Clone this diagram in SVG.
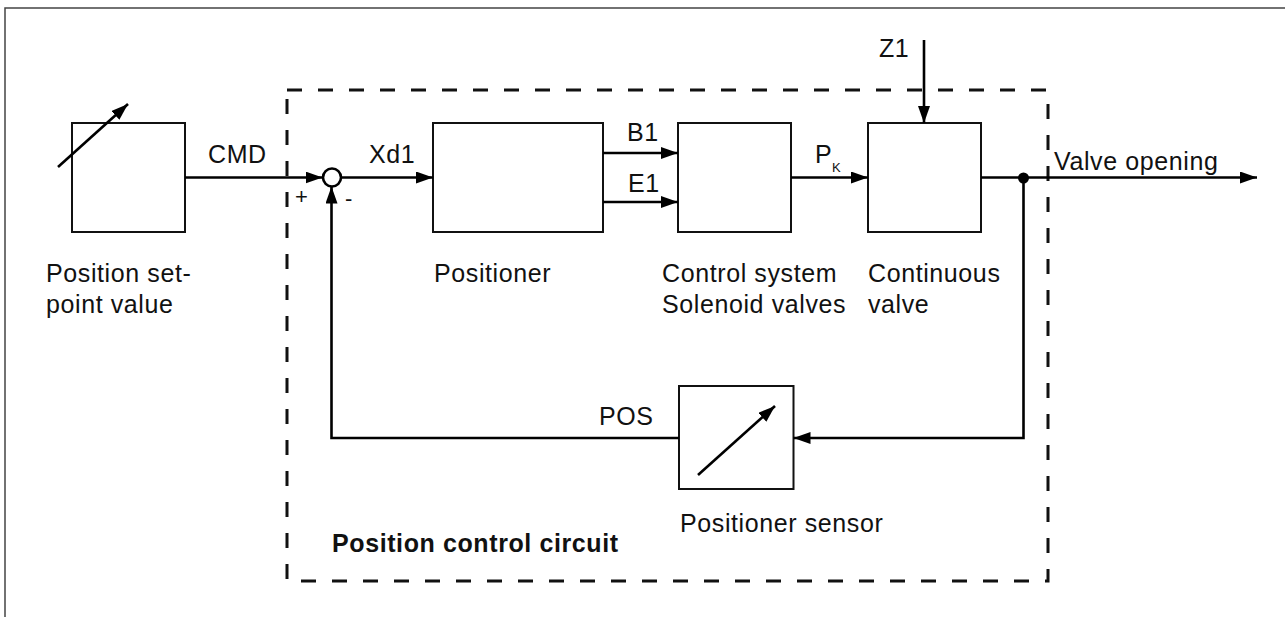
<svg xmlns="http://www.w3.org/2000/svg" width="1285" height="617" viewBox="0 0 1285 617">
<style>
.box{fill:#fff;stroke:#111;stroke-width:2}
.ln{fill:none;stroke:#000;stroke-width:2.6}
.t{font-family:"Liberation Sans",Arial,sans-serif;font-size:25px;letter-spacing:0.6px;fill:#111}
.b{font-weight:bold}
.dash{fill:none;stroke:#111;stroke-width:3;stroke-dasharray:15 16}
</style>
<defs>
<marker id="ah" markerUnits="userSpaceOnUse" markerWidth="18" markerHeight="13" refX="17" refY="6" orient="auto">
<path d="M0,0 L17,6 L0,12 z" fill="#000"/>
</marker>
</defs>
<rect width="1285" height="617" fill="#fff"/>
<path d="M5,617 V8 H1285" fill="none" stroke="#444" stroke-width="1.5"/>
<g id="circuit-boundary">
<rect x="287" y="90" width="761" height="491" class="dash"/>
<text x="332" y="552" class="t b">Position control circuit</text>
</g>
<g id="setpoint">
<rect x="72" y="123" width="113" height="109" class="box"/>
<line x1="58" y1="167" x2="128" y2="104" class="ln" marker-end="url(#ah)"/>
<text x="46" y="282" class="t">Position set-</text>
<text x="46" y="313" class="t">point value</text>
</g>
<g id="sum">
<circle cx="332" cy="177.5" r="9" fill="#fff" stroke="#000" stroke-width="2.6"/>
<text x="295" y="204" class="t" style="font-size:22px">+</text>
<text x="345" y="206" class="t" style="font-size:22px">-</text>
</g>
<g id="positioner">
<rect x="433" y="123" width="170" height="109" class="box"/>
<text x="434" y="282" class="t">Positioner</text>
</g>
<g id="control-system">
<rect x="678" y="123" width="113" height="109" class="box"/>
<text x="662" y="282" class="t">Control system</text>
<text x="662" y="313" class="t">Solenoid valves</text>
</g>
<g id="continuous-valve">
<rect x="868" y="123" width="113" height="109" class="box"/>
<text x="868" y="282" class="t">Continuous</text>
<text x="868" y="313" class="t">valve</text>
</g>
<g id="sensor">
<rect x="679" y="386" width="114.5" height="103" class="box"/>
<line x1="698" y1="475" x2="775" y2="406" class="ln" marker-end="url(#ah)"/>
<text x="680" y="532" class="t">Positioner sensor</text>
</g>
<g id="connectors">
<line x1="185" y1="177.5" x2="322.5" y2="177.5" class="ln" marker-end="url(#ah)"/>
<line x1="341" y1="177.5" x2="433" y2="177.5" class="ln" marker-end="url(#ah)"/>
<line x1="603" y1="153" x2="678" y2="153" class="ln" marker-end="url(#ah)"/>
<line x1="603" y1="202" x2="678" y2="202" class="ln" marker-end="url(#ah)"/>
<line x1="791" y1="177.5" x2="868" y2="177.5" class="ln" marker-end="url(#ah)"/>
<line x1="924" y1="40" x2="924" y2="123" class="ln" marker-end="url(#ah)"/>
<line x1="981" y1="177.5" x2="1257" y2="177.5" class="ln" marker-end="url(#ah)"/>
<circle cx="1023.5" cy="178" r="5.5" fill="#000"/>
<path d="M1023.5,178 V438 H793.5" class="ln" marker-end="url(#ah)"/>
<path d="M679,438 H331.5 V186.5" class="ln" marker-end="url(#ah)"/>
<text x="208" y="163" class="t">CMD</text>
<text x="369" y="163" class="t">Xd1</text>
<text x="627" y="141" class="t">B1</text>
<text x="628" y="192" class="t">E1</text>
<text x="815" y="163" class="t">P</text>
<text x="832" y="172" class="t" style="font-size:13px;letter-spacing:0">K</text>
<text x="879" y="57" class="t">Z1</text>
<text x="1054" y="170" class="t">Valve opening</text>
<text x="599" y="425" class="t">POS</text>
</g>
</svg>
